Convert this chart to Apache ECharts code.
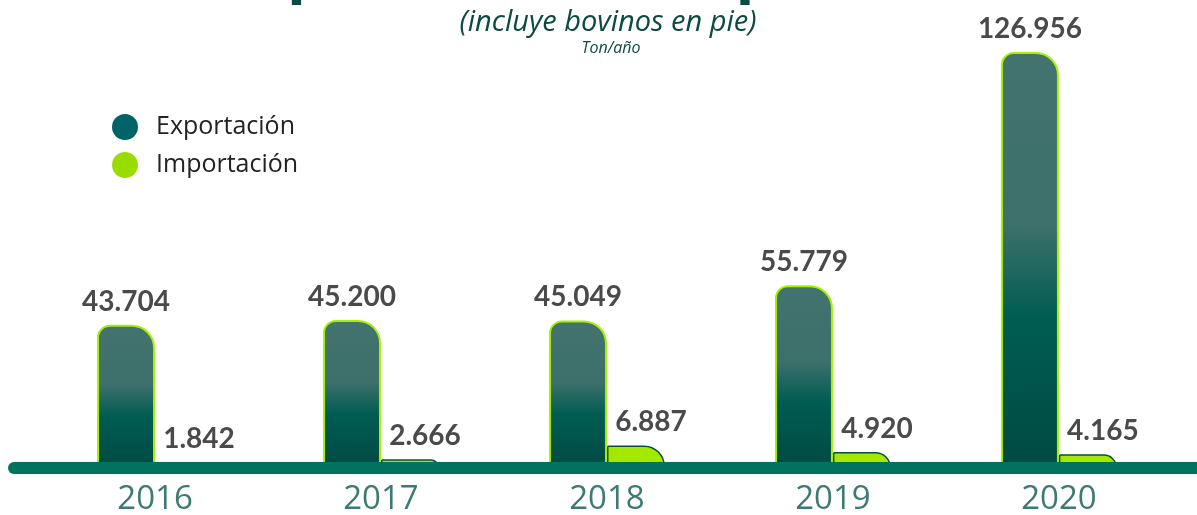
<!DOCTYPE html>
<html>
<head>
<meta charset="utf-8">
<script src="https://cdn.jsdelivr.net/npm/echarts@6/dist/echarts.min.js"></script>
<style>
  html, body { margin: 0; padding: 0; background: #fff; }
  #chart { width: 1197px; height: 515px; }
</style>
</head>
<body>
<div id="chart"></div>
<script>
var years = ['2016', '2017', '2018', '2019', '2020'];
var exportacion = [43704, 45200, 45049, 55779, 126956];
var importacion = [1842, 2666, 6887, 4920, 4165];

function fmt(n) {
    return String(n).replace(/\B(?=(\d{3})+(?!\d))/g, '.');
}

var chartDom = document.getElementById('chart');
var myChart = echarts.init(chartDom);

var labelStyle = {
    show: true,
    position: 'top',
    distance: 9,
    fontFamily: 'Lato',
    fontWeight: 'bold',
    fontSize: 28,
    color: '#4a4a4a',
    formatter: function (p) { return fmt(p.value[1]); }
};

var option = {
    animation: false,
    title: [
        {
            text: 'Exportación e importación',
            left: 621, textAlign: 'center', top: -64,
            textStyle: { fontFamily: 'Open Sans', fontWeight: 'bold', fontSize: 62, color: '#0b4a42' }
        },
        {
            text: '(incluye bovinos en pie)',
            left: 603, textAlign: 'center', top: 3,
            textStyle: { fontFamily: 'Open Sans', fontStyle: 'italic', fontWeight: 'normal', fontSize: 29, color: '#0d4a42' }
        },
        {
            text: 'Ton/año',
            left: 606, textAlign: 'center', top: 35,
            textStyle: { fontFamily: 'Open Sans', fontStyle: 'italic', fontWeight: 'normal', fontSize: 16, color: '#0d4a42' }
        }
    ],
    legend: {
        orient: 'vertical',
        left: 107,
        top: 109,
        itemWidth: 26,
        itemHeight: 26,
        itemGap: 12,
        icon: 'circle',
        textStyle: { fontFamily: 'Open Sans', fontSize: 25, color: '#222', padding: [0, 0, 0, 13] },
        data: [
            { name: 'Exportación', itemStyle: { color: '#00636a', borderWidth: 0 } },
            { name: 'Importación', itemStyle: { color: '#99dd00', borderWidth: 0 } }
        ]
    },
    grid: { left: 14, right: 0, top: 52, bottom: 47, outerBoundsMode: 'none', containLabel: false },
    xAxis: {
        type: 'value',
        min: -0.624,
        max: 4.611,
        offset: 4,
        z: 5,
        axisLine: { show: true, lineStyle: { color: '#00735f', width: 12, cap: 'round' } },
        axisTick: { show: false },
        splitLine: { show: false },
        axisLabel: {
            customValues: [0, 1, 2, 3, 4],
            formatter: function (v) { return years[Math.round(v)]; },
            fontFamily: 'Open Sans',
            fontSize: 33,
            color: '#3d7a73',
            margin: 11
        }
    },
    yAxis: {
        type: 'value',
        show: false,
        min: 0,
        max: 'dataMax'
    },
    series: [
        {
            name: 'Exportación',
            type: 'bar',
            barWidth: 58,
            barGap: '0%',
            data: exportacion.map(function (v, i) { return [i, v]; }),
            itemStyle: {
                color: new echarts.graphic.LinearGradient(0, 0, 0, 1, [
                    { offset: 0, color: '#43736e' },
                    { offset: 0.42, color: '#3d706b' },
                    { offset: 0.64, color: '#005c52' },
                    { offset: 1, color: '#004a42' }
                ]),
                borderColor: '#a6f000',
                borderWidth: 2,
                borderRadius: [12, 22, 0, 0]
            },
            label: Object.assign({}, labelStyle, { offset: [0, 0] })
        },
        {
            name: 'Importación',
            type: 'bar',
            barWidth: 58,
            barGap: '0%',
            data: importacion.map(function (v, i) { return [i, v]; }),
            itemStyle: {
                color: '#a4e800',
                borderColor: '#0b4d44',
                borderWidth: 1.5,
                borderRadius: [0, 20, 0, 0]
            },
            label: Object.assign({}, labelStyle, { offset: [15, 0] })
        }
    ]
};

option && myChart.setOption(option);
</script>
</body>
</html>
